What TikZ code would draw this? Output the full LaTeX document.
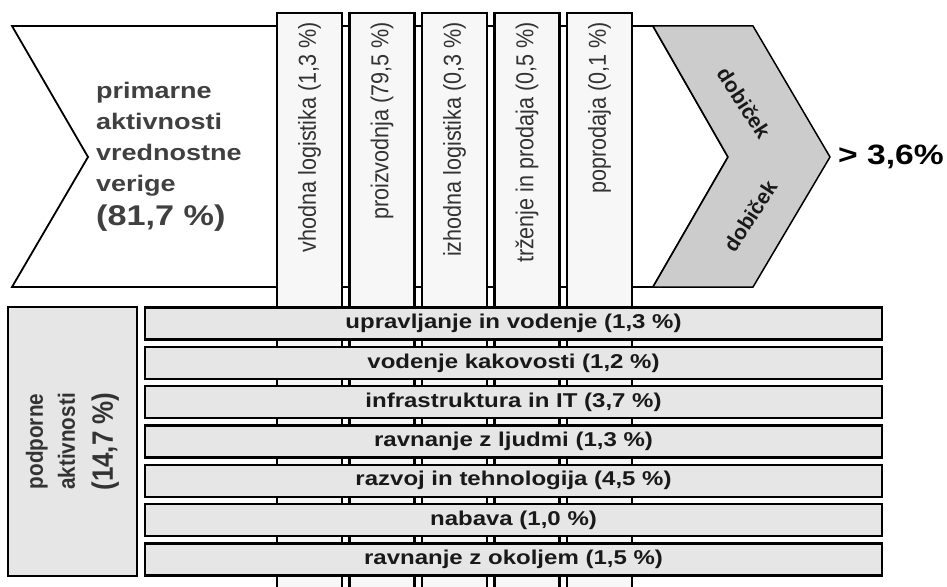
\documentclass[tikz,border=0pt]{standalone}
\usepackage{fontspec}
\setmainfont{Liberation Sans}
\newfontfamily\widesans[FakeStretch=1.2]{Liberation Sans}
\newfontfamily\narrowsans[FakeStretch=0.88]{Liberation Sans}
\usepackage{tikz}
\usetikzlibrary{positioning}
\definecolor{colfill}{HTML}{F7F7F7}
\definecolor{barfill}{HTML}{E6E6E6}
\definecolor{profit}{HTML}{CCCCCC}
\definecolor{txtgray}{HTML}{404040}

\begin{document}
\begin{tikzpicture}
[
    x = 1pt, y = -1pt,
    chevron/.style = {draw, line width = 1.8pt, fill = white},
    profitarrow/.style = {draw, line width = 1.5pt, fill = profit},
    col/.style = {draw, line width = 2.2pt, fill = colfill, minimum width = 65pt, minimum height = 590pt, inner sep = 0pt},
    coltext/.style = {rotate = 90, anchor = east, inner sep = 0pt, text = black!80, font = \narrowsans\fontsize{24.5}{28}\selectfont},
    bar/.style = {draw, line width = 2.4pt, fill = barfill, minimum width = 737pt, minimum height = 32pt, inner sep = 0pt, text = black!90, font = \widesans\bfseries\fontsize{20}{24}\selectfont},
    primtext/.style = {align = left, inner sep = 0pt, text = txtgray, font = \widesans\bfseries\fontsize{22.5}{31}\selectfont},
    suptext/.style = {rotate = 90, align = center, inner sep = 0pt, text = black!80, font = \narrowsans\bfseries\fontsize{23.5}{32}\selectfont},
    profittext/.style = {inner sep = 0pt, text = black!90, font = \bfseries\fontsize{21}{24}\selectfont},
    result/.style = {inner sep = 0pt, text = black, font = \widesans\bfseries\fontsize{28}{32}\selectfont}
]
\useasboundingbox (0,0) rectangle (947,586);
\clip (0,0) rectangle (947,586);

\draw[chevron] (12,26) -- (653,26) -- (728,157) -- (653,287) -- (12,287) -- (88,157) -- cycle;
\draw[profitarrow] (653,26) -- (753,26) -- (830,157) -- (753,287) -- (653,287) -- (728,157) -- cycle;
\coordinate (tip) at (830,157);

\node[primtext, anchor = west] (prim) at (96,157) {primarne\\aktivnosti\\vrednostne\\verige\\[3pt]{\fontsize{28.5}{34}\selectfont (81,7 \%)}};
\node[profittext, rotate = -57] (dob1) at (744,103) {dobiček};
\node[profittext, rotate = 57] (dob2) at (750,216) {dobiček};
\node[result, right = 8pt of tip] (res) {> 3,6\%};

\foreach \t [count=\i] in {{vhodna logistika (1,3 \%)}, {proizvodnja (79,5 \%)}, {izhodna logistika (0,3 \%)}, {trženje in prodaja (0,5 \%)}, {poprodaja (0,1 \%)}}
{
    \node[col] (col\i) at ({237+72.5*\i}, 308) {};
    \node[coltext] (coltxt\i) at ([yshift=-10pt]col\i.north) {\t};
}

\node[bar, minimum width = 129pt, minimum height = 269pt] (sup) at (72.5,441.5) {};
\node[suptext] (suptxt) at (sup.center) {podporne\\aktivnosti\\[6pt]{\fontsize{29.5}{34}\selectfont (14,7 \%)}};

\foreach \t [count=\i] in {{upravljanje in vodenje (1,3 \%)}, {vodenje kakovosti (1,2 \%)}, {infrastruktura in IT (3,7 \%)}, {ravnanje z ljudmi (1,3 \%)}, {razvoj in tehnologija (4,5 \%)}, {nabava (1,0 \%)}, {ravnanje z okoljem (1,5 \%)}}
    \node[bar] (bar\i) at (513.5, {323.5+39.33*(\i-1)}) {\t};

\end{tikzpicture}
\end{document}
